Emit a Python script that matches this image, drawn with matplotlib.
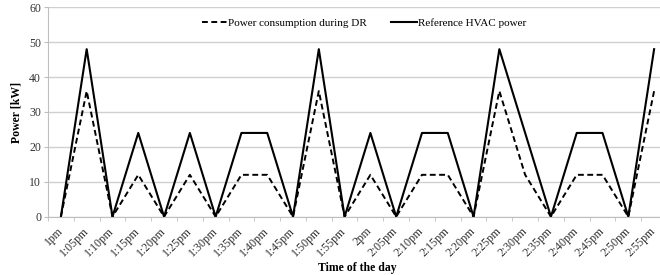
import matplotlib
matplotlib.use("Agg")
import matplotlib.pyplot as plt
import matplotlib.transforms as mtransforms
import numpy as np

times = ["1pm", "1:05pm", "1:10pm", "1:15pm", "1:20pm", "1:25pm", "1:30pm", "1:35pm",
         "1:40pm", "1:45pm", "1:50pm", "1:55pm", "2pm", "2:05pm", "2:10pm", "2:15pm",
         "2:20pm", "2:25pm", "2:30pm", "2:35pm", "2:40pm", "2:45pm", "2:50pm", "2:55pm"]
dr_power = [0, 36, 0, 12, 0, 12, 0, 12, 12, 0, 36, 0, 12, 0, 12, 12, 0, 36, 12, 0, 12, 12, 0, 36]
ref_power = [0, 48, 0, 24, 0, 24, 0, 24, 24, 0, 48, 0, 24, 0, 24, 24, 0, 48, 24, 0, 24, 24, 0, 48]

plt.rcParams['font.family'] = ['Liberation Serif', 'DejaVu Serif']

fig = plt.figure(figsize=(6.6, 2.75), dpi=100)
ax = fig.add_axes([48/660, 1 - 216.7/275, 619/660, 209.4/275])

x = np.arange(len(times))
ax.plot(x, dr_power, color='black', lw=1.4, linestyle=(0, (3, 1.8)),
        label='Power consumption during DR')
ax.plot(x, ref_power, color='black', lw=1.5, label='Reference HVAC power')

ax.set_xlim(-0.5, len(times) - 0.5)
ax.set_ylim(0, 60)
ax.set_yticks(range(0, 61, 10))
ax.yaxis.grid(True, color='#d0d0d0', lw=1)
ax.set_axisbelow(True)

ax.set_xticks(x)
ax.set_xticklabels(times, fontsize=8.5)
offset = mtransforms.ScaledTranslation(3/100, 0, fig.dpi_scale_trans)
for lab in ax.get_xticklabels():
    lab.set_rotation(45)
    lab.set_ha('right')
    lab.set_va('center')
    lab.set_rotation_mode('anchor')
    lab.set_transform(lab.get_transform() + offset)
ax.set_xticks(np.arange(-0.5, len(times)), minor=True)
ax.tick_params(axis='x', which='major', length=0, pad=9, colors='#333333')
ax.tick_params(axis='x', which='minor', length=3, color='#bfbfbf')
ax.tick_params(axis='y', length=3, color='#bfbfbf', labelsize=8.5, pad=2, labelcolor='#333333')

for s in ['top', 'right']:
    ax.spines[s].set_visible(False)
ax.spines['bottom'].set_color('#bfbfbf')
ax.spines['left'].set_color('#bfbfbf')

ax.set_ylabel('Power [kW]', fontsize=8.5, fontweight='bold', labelpad=5)
ax.set_xlabel('Time of the day', fontsize=8.5, fontweight='bold', labelpad=2)

ax.legend(loc='center', bbox_to_anchor=((364 - 48) / 619, (216.7 - 23) / 209.4), ncol=2,
          frameon=False, fontsize=8, handlelength=2.3, handletextpad=0.1,
          columnspacing=2.2)

fig.savefig('out.png', dpi=100)
